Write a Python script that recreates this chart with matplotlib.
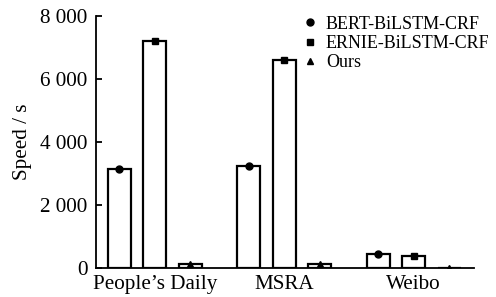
import numpy as np
import matplotlib.pyplot as plt

plt.rcParams['font.family'] = ['Liberation Serif', 'DejaVu Serif']

datasets = ["People\u2019s Daily", "MSRA", "Weibo"]
models = ["BERT-BiLSTM-CRF", "ERNIE-BiLSTM-CRF", "Ours"]
bert = [3150, 3250, 430]
ernie = [7200, 6600, 390]
ours = [130, 130, 10]
markers = ["o", "s", "^"]

fig = plt.figure(figsize=(4.96, 2.97), dpi=100)
ax = fig.add_axes([96 / 496, 29 / 297, 378 / 496, 252 / 297])

x = np.arange(len(datasets))
step = 0.273
width = 0.177
for i, (name, vals) in enumerate(zip(models, [bert, ernie, ours])):
    pos = x + (i - 1) * step
    ax.bar(pos, vals, width, color="white", edgecolor="black", linewidth=1.6)
    ax.plot(pos, vals, linestyle="none", marker=markers[i], color="black",
            markersize=5 if i < 2 else 4, label=name)

ax.set_xlim(-0.454, 2.465)
ax.set_ylim(0, 8000)
ax.set_yticks([0, 2000, 4000, 6000, 8000])
ax.set_yticklabels(["0", "2 000", "4 000", "6 000", "8 000"])
ax.set_xticks(x)
ax.set_xticklabels(datasets)
ax.tick_params(axis="x", length=0, labelsize=15.2, pad=5)
ax.tick_params(axis="y", direction="in", length=4, width=1.3, labelsize=15.2, pad=6)
ax.spines["top"].set_visible(False)
ax.spines["right"].set_visible(False)
ax.spines["left"].set_linewidth(1.3)
ax.spines["bottom"].set_linewidth(1.3)
ax.set_ylabel("Speed / s", fontsize=15.2, labelpad=6)

ax.legend(loc="upper right", bbox_to_anchor=(1.06, 1.03), frameon=False, fontsize=13,
          handlelength=0.6, handletextpad=0.6, labelspacing=0.12, borderaxespad=0)

fig.savefig("out.png", dpi=100)
